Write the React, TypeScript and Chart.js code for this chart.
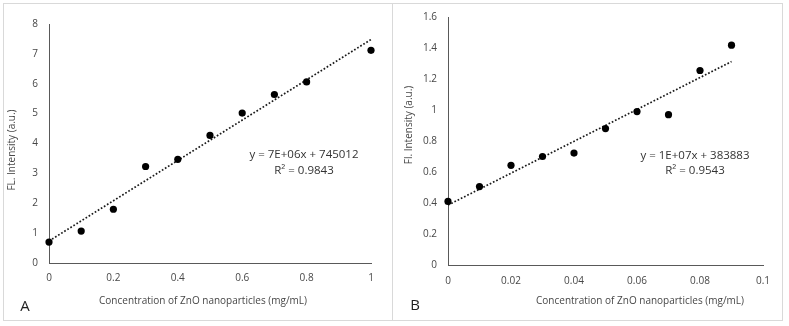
import React, { useEffect, useRef } from "react";
import { Chart, registerables } from "chart.js";

Chart.register(...registerables);

// ---------- data ----------
const concentrationA = [0, 0.1, 0.2, 0.3, 0.4, 0.5, 0.6, 0.7, 0.8, 1];
const intensityA = [0.7, 1.07, 1.8, 3.23, 3.47, 4.27, 5.02, 5.64, 6.06, 7.12];
const concentrationB = [0, 0.01, 0.02, 0.03, 0.04, 0.05, 0.06, 0.07, 0.08, 0.09];
const intensityB = [0.41, 0.506, 0.643, 0.7, 0.722, 0.88, 0.99, 0.97, 1.255, 1.418];

const xTicksA = [0, 0.2, 0.4, 0.6, 0.8, 1];
const yTicksA = [0, 1, 2, 3, 4, 5, 6, 7, 8];
const xTicksB = [0, 0.02, 0.04, 0.06, 0.08, 0.1];
const yTicksB = [0, 0.2, 0.4, 0.6, 0.8, 1, 1.2, 1.4, 1.6];

const equationA = ["y = 7E+06x + 745012", "R² = 0.9843"];
const equationB = ["y = 1E+07x + 383883", "R² = 0.9543"];
const xTitle = "Concentration of ZnO nanoparticles (mg/mL)";
const yTitleA = "FL. Intensity (a.u.)";
const yTitleB = "Fl. Intensity (a.u.)";
const panelLabels = ["A", "B"];

// ---------- helpers ----------
const FONT = "'Open Sans', 'Liberation Sans', sans-serif";
const TEXT = "#474747";

function fit(xs: number[], ys: number[]) {
  const n = xs.length;
  const mx = xs.reduce((a, b) => a + b, 0) / n;
  const my = ys.reduce((a, b) => a + b, 0) / n;
  let sxy = 0, sxx = 0;
  for (let i = 0; i < n; i++) {
    sxy += (xs[i] - mx) * (ys[i] - my);
    sxx += (xs[i] - mx) * (xs[i] - mx);
  }
  const slope = sxy / sxx;
  return { slope, intercept: my - slope * mx };
}

const textPlugin = {
  id: "panelTexts",
  afterDraw(chart: any, _args: any, opts: any) {
    const ctx = chart.ctx;
    for (const t of opts.items || []) {
      ctx.save();
      ctx.font = t.font;
      ctx.fillStyle = t.color;
      ctx.textAlign = "center";
      ctx.textBaseline = "middle";
      ctx.translate(t.x, t.y);
      if (t.rotate) ctx.rotate(t.rotate);
      ctx.fillText(t.text, 0, 0);
      ctx.restore();
    }
  },
};

type PanelProps = {
  xs: number[];
  ys: number[];
  xTicks: number[];
  yTicks: number[];
  padding: { left: number; right: number; top: number; bottom: number };
  yWidth: number;
  xHeight: number;
  xPad: number;
  texts: any[];
};

function ScatterPanel(p: PanelProps) {
  const ref = useRef<HTMLCanvasElement | null>(null);
  useEffect(() => {
    if (!ref.current) return;
    const { slope, intercept } = fit(p.xs, p.ys);
    const x0 = p.xs[0];
    const x1 = p.xs[p.xs.length - 1];
    const chart = new Chart(ref.current, {
      type: "scatter",
      data: {
        datasets: [
          {
            type: "scatter",
            data: p.xs.map((x, i) => ({ x, y: p.ys[i] })),
            backgroundColor: "#000000",
            borderWidth: 0,
            pointRadius: 3.6,
            clip: false,
          } as any,
          {
            type: "line",
            data: [
              { x: x0, y: intercept + slope * x0 },
              { x: x1, y: intercept + slope * x1 },
            ],
            borderColor: "#1a1a1a",
            borderWidth: 1.7,
            borderDash: [1.7, 1.9],
            pointRadius: 0,
            fill: false,
            clip: false,
          } as any,
        ],
      },
      options: {
        animation: false,
        responsive: false,
        devicePixelRatio: 1,
        events: [],
        layout: { padding: p.padding },
        plugins: {
          legend: { display: false },
          tooltip: { enabled: false },
          panelTexts: { items: p.texts },
        } as any,
        scales: {
          x: {
            type: "linear",
            min: p.xTicks[0],
            max: p.xTicks[p.xTicks.length - 1],
            grid: { display: false, drawTicks: false, tickLength: 0 },
            border: { display: true, color: "#595959", width: 1 },
            afterBuildTicks: (s: any) => {
              s.ticks = p.xTicks.map((v) => ({ value: v }));
            },
            afterFit: (s: any) => {
              s.height = p.xHeight;
            },
            ticks: {
              padding: p.xPad,
              maxRotation: 0,
              autoSkip: false,
              color: TEXT,
              font: { family: FONT, size: 10 },
              callback: (v: any) => String(v),
            },
          },
          y: {
            type: "linear",
            min: p.yTicks[0],
            max: p.yTicks[p.yTicks.length - 1],
            grid: { display: false, drawTicks: false, tickLength: 0 },
            border: { display: true, color: "#595959", width: 1 },
            afterBuildTicks: (s: any) => {
              s.ticks = p.yTicks.map((v) => ({ value: v }));
            },
            afterFit: (s: any) => {
              s.width = p.yWidth;
            },
            ticks: {
              padding: 11,
              autoSkip: false,
              color: TEXT,
              font: { family: FONT, size: 10 },
              callback: (v: any) => String(v),
            },
          },
        },
      },
      plugins: [textPlugin],
    });
    return () => chart.destroy();
  }, []);
  return (
    <canvas
      ref={ref}
      width={789}
      height={326}
      style={{ position: "absolute", left: 0, top: 0, width: 789, height: 326 }}
    />
  );
}

const eqFont = `11.5px ${FONT}`;
const titleFont = `10px ${FONT}`;
const letterFont = `15px ${FONT}`;

export default function App() {
  const textsA = [
    { text: equationA[0], x: 304, y: 155, font: eqFont, color: "#333333" },
    { text: equationA[1], x: 304, y: 171, font: eqFont, color: "#333333" },
    { text: xTitle, x: 203, y: 301, font: titleFont, color: TEXT },
    { text: yTitleA, x: 12, y: 150, font: titleFont, color: TEXT, rotate: -Math.PI / 2 },
    { text: panelLabels[0], x: 25, y: 307, font: letterFont, color: "#1f1f1f" },
  ];
  const textsB = [
    { text: equationB[0], x: 695, y: 156, font: eqFont, color: "#333333" },
    { text: equationB[1], x: 695, y: 171, font: eqFont, color: "#333333" },
    { text: xTitle, x: 640, y: 301, font: titleFont, color: TEXT },
    { text: yTitleB, x: 409, y: 125, font: titleFont, color: TEXT, rotate: -Math.PI / 2 },
    { text: panelLabels[1], x: 415, y: 306, font: letterFont, color: "#1f1f1f" },
  ];
  return (
    <div
      style={{
        position: "absolute",
        left: 0,
        top: 0,
        width: 789,
        height: 326,
        background: "#ffffff",
        overflow: "hidden",
      }}
    >
      <div
        style={{
          position: "absolute",
          left: 3,
          top: 3,
          width: 390,
          height: 318,
          boxSizing: "border-box",
          border: "1px solid #d9d9d9",
        }}
      />
      <div
        style={{
          position: "absolute",
          left: 392,
          top: 3,
          width: 391,
          height: 318,
          boxSizing: "border-box",
          border: "1px solid #d9d9d9",
          borderLeft: "none",
        }}
      />
      <ScatterPanel
        xs={concentrationA}
        ys={intensityA}
        xTicks={xTicksA}
        yTicks={yTicksA}
        padding={{ left: 3, top: 24, right: 418, bottom: 26 }}
        yWidth={46}
        xHeight={37}
        xPad={9}
        texts={textsA}
      />
      <ScatterPanel
        xs={concentrationB}
        ys={intensityB}
        xTicks={xTicksB}
        yTicks={yTicksB}
        padding={{ left: 392, top: 16, right: 26, bottom: 26 }}
        yWidth={56}
        xHeight={35}
        xPad={10}
        texts={textsB}
      />
    </div>
  );
}
